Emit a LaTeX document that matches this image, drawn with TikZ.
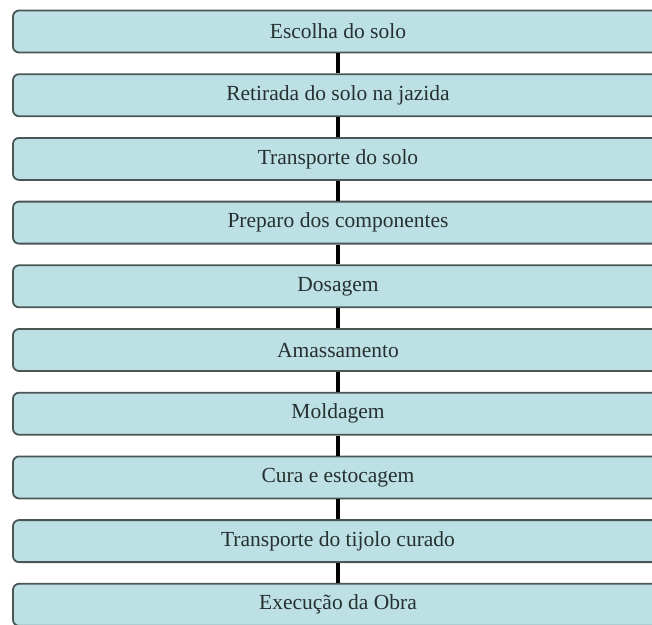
\documentclass[tikz,border=0pt]{standalone}
\usepackage{fontspec}
\setmainfont{Liberation Serif}
\definecolor{boxfill}{HTML}{BCE0E3}
\definecolor{boxline}{HTML}{4A5656}
\definecolor{txt}{HTML}{263030}
\begin{document}
\begin{tikzpicture}[x=1pt,y=1pt,
  stepbox/.style={draw=boxline, line width=1.8pt, fill=boxfill, rounded corners=6pt,
    minimum width=650pt, minimum height=42pt, inner sep=0pt, font=\fontsize{21.5}{24}\selectfont, text=txt},
  link/.style={line width=4pt, black}]
\useasboundingbox (0,0) rectangle (652,-624);
\clip (0,0) rectangle (652,-624);
\fill[white] (0,0) rectangle (652,-624);
\node[stepbox] (b1) at (338,-31.5) {Escolha do solo};
\node[stepbox] (b2) at (338,-95.2) {Retirada do solo na jazida};
\node[stepbox] (b3) at (338,-158.9) {Transporte do solo};
\node[stepbox] (b4) at (338,-222.6) {Preparo dos componentes};
\node[stepbox] (b5) at (338,-286.3) {Dosagem};
\node[stepbox] (b6) at (338,-350.0) {Amassamento};
\node[stepbox] (b7) at (338,-413.7) {Moldagem};
\node[stepbox] (b8) at (338,-477.4) {Cura e estocagem};
\node[stepbox] (b9) at (338,-541.1) {Transporte do tijolo curado};
\node[stepbox] (b10) at (338,-604.8) {Execução da Obra};
\foreach \a/\b in {b1/b2,b2/b3,b3/b4,b4/b5,b5/b6,b6/b7,b7/b8,b8/b9,b9/b10}
  \draw[link] (\a.south) -- (\b.north);
\end{tikzpicture}
\end{document}
